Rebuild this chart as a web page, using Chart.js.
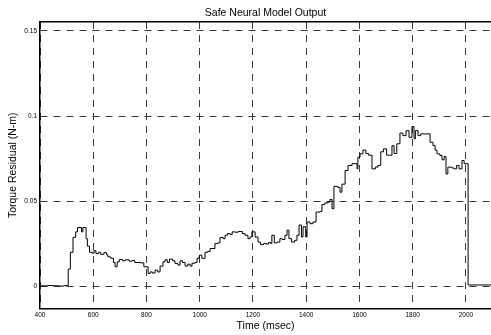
<!DOCTYPE html>
<html>
<head>
<meta charset="utf-8">
<script src="https://cdn.jsdelivr.net/npm/chart.js@4.4.1/dist/chart.umd.min.js"></script>
<style>
  body { margin: 0; background: #fff; }
  #box { width: 491px; height: 335px; }
</style>
</head>
<body>
<div id="box"><canvas id="residualChart" width="491" height="335"></canvas></div>
<script>
// step change points (time in msec, residual in N-m)
var stepTimes = [
  400, 430, 450, 470, 490, 506, 514, 524, 534, 541, 556, 561, 573, 578, 586,
  596, 603, 610, 620, 628, 640, 650, 655, 666, 676, 682, 690, 698, 710, 720,
  735, 746, 756, 776, 790, 806, 814, 822, 832, 842, 851, 862, 870, 878, 886,
  898, 907, 918, 926, 935, 945, 955, 964, 971, 983, 990, 998, 1008, 1020, 1030,
  1039, 1057, 1068, 1076, 1088, 1095, 1104, 1114, 1122, 1132, 1145, 1160, 1170, 1181, 1189,
  1196, 1208, 1219, 1228, 1240, 1250, 1258, 1266, 1271, 1280, 1290, 1301, 1310, 1320, 1328,
  1335, 1345, 1356, 1365, 1373, 1382, 1388, 1398, 1403, 1414, 1425, 1437, 1452, 1459, 1470,
  1482, 1489, 1497, 1504, 1519, 1527, 1534, 1546, 1557, 1572, 1583, 1591, 1594, 1602, 1613,
  1624, 1634, 1647, 1660, 1669, 1680, 1690, 1702, 1712, 1722, 1730, 1740, 1752, 1763, 1775,
  1786, 1797, 1805, 1810, 1820, 1830, 1865, 1876, 1884, 1891, 1902, 1910, 1918, 1925, 1932,
  1947, 1955, 1965, 1974, 1985, 1993, 2008, 2094
];
var stepValues = [
  0.0003, 0.0005, 0.0003, 0.0002, 0.0004, 0.0101, 0.0200, 0.0288, 0.0320, 0.0345, 0.0320, 0.0345, 0.0280, 0.0236, 0.0200,
  0.0195, 0.0210, 0.0192, 0.0200, 0.0188, 0.0198, 0.0185, 0.0173, 0.0165, 0.0140, 0.0115, 0.0144, 0.0158, 0.0150, 0.0156,
  0.0148, 0.0152, 0.0140, 0.0138, 0.0115, 0.0076, 0.0085, 0.0078, 0.0095, 0.0085, 0.0119, 0.0144, 0.0156, 0.0140, 0.0160,
  0.0150, 0.0135, 0.0125, 0.0150, 0.0140, 0.0119, 0.0130, 0.0119, 0.0136, 0.0140, 0.0165, 0.0183, 0.0165, 0.0200, 0.0205,
  0.0222, 0.0251, 0.0255, 0.0287, 0.0280, 0.0300, 0.0310, 0.0305, 0.0320, 0.0318, 0.0322, 0.0310, 0.0300, 0.0280, 0.0290,
  0.0320, 0.0290, 0.0260, 0.0245, 0.0252, 0.0248, 0.0258, 0.0252, 0.0300, 0.0255, 0.0260, 0.0280, 0.0275, 0.0300, 0.0330,
  0.0280, 0.0260, 0.0270, 0.0300, 0.0360, 0.0290, 0.0350, 0.0290, 0.0378, 0.0368, 0.0378, 0.0436, 0.0440, 0.0480, 0.0490,
  0.0495, 0.0510, 0.0456, 0.0587, 0.0580, 0.0553, 0.0600, 0.0680, 0.0710, 0.0720, 0.0720, 0.0690, 0.0758, 0.0778, 0.0800,
  0.0780, 0.0770, 0.0690, 0.0700, 0.0710, 0.0790, 0.0807, 0.0770, 0.0770, 0.0826, 0.0780, 0.0837, 0.0900, 0.0885, 0.0914,
  0.0875, 0.0938, 0.0866, 0.0914, 0.0885, 0.0895, 0.0846, 0.0826, 0.0800, 0.0778, 0.0768, 0.0743, 0.0762, 0.0660, 0.0700,
  0.0695, 0.0690, 0.0710, 0.0690, 0.0739, 0.0720, 0.0008, 0.0007
];
var xTicks = [400, 600, 800, 1000, 1200, 1400, 1600, 1800, 2000];
var xTickLabels = ["400", "600", "800", "1000", "1200", "1400", "1600", "1800", "2000"];
var yTicks = [0, 0.05, 0.1, 0.15];
var yTickLabels = ["0", "0.05", "0.1", "0.15"];

var fontFam = "'Liberation Sans', Arial, Helvetica, sans-serif";
var gridCol = "#3a3a3a";

var points = [];
for (var i = 0; i < stepTimes.length; i++) {
  points.push({ x: stepTimes[i], y: stepValues[i] });
}

var ctx = document.getElementById("residualChart");

var residualChart = new Chart(ctx, {
  type: "line",
  data: {
    datasets: [{
      data: points,
      stepped: true,
      borderColor: "#000",
      borderWidth: 1,
      pointRadius: 0,
      fill: false
    }]
  },
  options: {
    responsive: false,
    animation: false,
    layout: { padding: 0 },
    plugins: {
      legend: { display: false },
      tooltip: { enabled: false }
    },
    scales: {
      x: {
        type: "linear",
        position: "bottom",
        min: 400,
        max: 2094,
        afterBuildTicks: function(s) { s.ticks = xTicks.map(function(v){ return { value: v }; }); },
        afterFit: function(s) { s.height = 26.5; },
        grid: { color: gridCol, lineWidth: 1, drawTicks: false },
        border: { display: true, color: "#000", width: 1.5, dash: [7, 6] },
        ticks: {
          font: { size: 6.5, family: fontFam },
          color: "#000",
          padding: 2.5,
          maxRotation: 0,
          autoSkip: false,
          callback: function(v, idx) { return xTickLabels[idx]; }
        },
        title: {
          display: true,
          text: "Time (msec)",
          font: { size: 10.5, family: fontFam },
          color: "#000",
          padding: { top: 0, bottom: 2.5 }
        }
      },
      xTop: {
        type: "linear",
        position: "top",
        min: 400,
        max: 2094,
        afterFit: function(s) { s.height = 22; },
        grid: { display: false, drawTicks: false },
        border: { display: true, color: "#000", width: 1.5 },
        ticks: { display: false },
        title: {
          display: true,
          text: "Safe Neural Model Output",
          font: { size: 10.5, family: fontFam },
          color: "#000",
          padding: { top: 6.5, bottom: 0 }
        }
      },
      y: {
        min: -0.013,
        max: 0.1552,
        afterBuildTicks: function(s) { s.ticks = yTicks.map(function(v){ return { value: v }; }); },
        afterFit: function(s) { s.width = 40; },
        grid: { color: gridCol, lineWidth: 1, drawTicks: false },
        border: { display: true, color: "#000", width: 1.5, dash: [7, 6] },
        ticks: {
          font: { size: 6.5, family: fontFam },
          color: "#000",
          padding: 3,
          callback: function(v, idx) { return yTickLabels[idx]; }
        },
        title: {
          display: true,
          text: "Torque Residual (N-m)",
          font: { size: 10.5, family: fontFam },
          color: "#000",
          padding: { top: 7.2, bottom: 0 }
        }
      }
    }
  }
});
</script>
</body>
</html>
